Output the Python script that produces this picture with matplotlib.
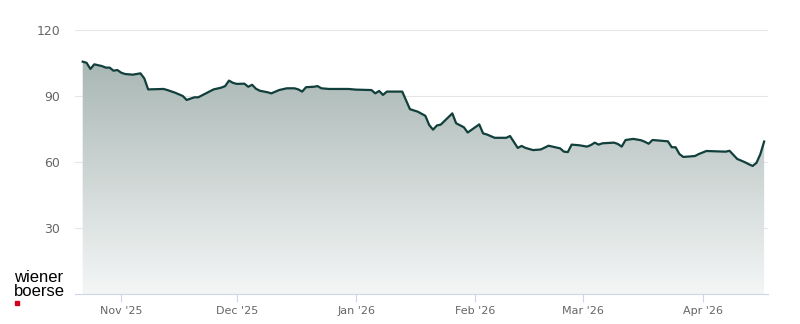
import numpy as np
import pandas as pd
import matplotlib
matplotlib.use("Agg")
import matplotlib.pyplot as plt
import matplotlib.dates as mdates
from matplotlib.colors import LinearSegmentedColormap
from matplotlib.patches import Polygon

# traced price points (date, close)
dates = [
    "2025-10-22", "2025-10-23", "2025-10-24", "2025-10-25", "2025-10-27", "2025-10-28",
    "2025-10-29", "2025-10-30", "2025-10-31", "2025-11-01", "2025-11-02", "2025-11-04",
    "2025-11-06", "2025-11-07", "2025-11-08", "2025-11-12", "2025-11-13", "2025-11-15",
    "2025-11-17", "2025-11-18", "2025-11-20", "2025-11-21", "2025-11-23", "2025-11-25",
    "2025-11-27", "2025-11-28", "2025-11-29", "2025-11-30", "2025-12-01", "2025-12-03",
    "2025-12-04", "2025-12-05", "2025-12-06", "2025-12-07", "2025-12-09", "2025-12-10",
    "2025-12-12", "2025-12-14", "2025-12-16", "2025-12-17", "2025-12-18", "2025-12-19",
    "2025-12-21", "2025-12-22", "2025-12-23", "2025-12-25", "2025-12-30", "2026-01-01",
    "2026-01-05", "2026-01-06", "2026-01-07", "2026-01-08", "2026-01-09", "2026-01-13",
    "2026-01-15", "2026-01-17", "2026-01-19", "2026-01-20", "2026-01-21", "2026-01-22",
    "2026-01-23", "2026-01-26", "2026-01-27", "2026-01-29", "2026-01-30", "2026-02-02",
    "2026-02-03", "2026-02-04", "2026-02-06", "2026-02-09", "2026-02-10", "2026-02-12",
    "2026-02-13", "2026-02-14", "2026-02-16", "2026-02-18", "2026-02-20", "2026-02-23",
    "2026-02-24", "2026-02-25", "2026-02-26", "2026-02-28", "2026-03-02", "2026-03-03",
    "2026-03-04", "2026-03-05", "2026-03-06", "2026-03-09", "2026-03-10", "2026-03-11",
    "2026-03-12", "2026-03-14", "2026-03-16", "2026-03-17", "2026-03-18", "2026-03-19",
    "2026-03-21", "2026-03-23", "2026-03-24", "2026-03-25", "2026-03-26", "2026-03-27",
    "2026-03-30", "2026-03-31", "2026-04-02", "2026-04-07", "2026-04-08", "2026-04-10",
    "2026-04-12", "2026-04-13", "2026-04-14", "2026-04-15", "2026-04-16", "2026-04-17",
]
prices = [
    105.6, 105.1, 102.3, 104.4, 103.6, 102.9,
    102.9, 101.5, 101.8, 100.6, 100.0, 99.7,
    100.3, 98.0, 93.0, 93.2, 92.7, 91.5,
    90.0, 88.2, 89.4, 89.4, 91.2, 93.0,
    93.8, 94.5, 97.0, 96.0, 95.5, 95.6,
    94.2, 95.1, 93.3, 92.4, 91.7, 91.2,
    92.7, 93.5, 93.5, 93.0, 92.0, 94.0,
    94.2, 94.5, 93.5, 93.2, 93.2, 92.9,
    92.7, 91.2, 92.3, 90.5, 92.0, 92.0,
    84.0, 82.9, 81.0, 76.8, 74.7, 76.6,
    77.0, 82.1, 77.6, 75.8, 73.4, 77.1,
    73.0, 72.5, 71.0, 71.0, 71.8, 66.4,
    67.3, 66.4, 65.4, 65.7, 67.4, 66.2,
    64.7, 64.5, 67.9, 67.6, 67.0, 67.7,
    68.8, 67.9, 68.5, 68.8, 68.2, 67.0,
    70.0, 70.5, 69.9, 69.2, 68.3, 70.0,
    69.7, 69.4, 66.7, 66.7, 63.6, 62.3,
    62.7, 63.6, 65.0, 64.7, 65.1, 61.4,
    59.9, 59.0, 58.2, 59.6, 63.5, 69.3,
]
y_ticks = [30, 60, 90, 120]

x = mdates.date2num(pd.to_datetime(dates))
y = np.array(prices)

fig = plt.figure(figsize=(8, 3.24), dpi=100)
ax = fig.add_axes([75 / 800, 1 - 294 / 324, 693 / 800, 264 / 324])

xlim = mdates.date2num([pd.Timestamp("2025-10-20"), pd.Timestamp("2026-04-18")])

# gradient fill under the line, clipped to the area polygon
verts = np.vstack([[x[0], 0], np.column_stack([x, y]), [x[-1], 0]])
area = Polygon(verts, closed=True, facecolor="none", edgecolor="none")
ax.add_patch(area)
cmap = LinearSegmentedColormap.from_list("fade", ["#f4f6f6", "#a9b7b4"])
grad = np.linspace(0, 1, 256).reshape(-1, 1)
img = ax.imshow(grad, cmap=cmap, aspect="auto", origin="lower",
                extent=[xlim[0], xlim[1], 0, max(prices)], zorder=1)
img.set_clip_path(area)

ax.plot(x, y, color="#113f3b", lw=1.6, zorder=3, solid_joinstyle="round")

ax.set_xlim(xlim)
ax.set_ylim(0, 120)

# grid and axes styling
ax.set_yticks(y_ticks)
for v in y_ticks:
    ax.axhline(v, color="#e6e6e6", lw=0.8, zorder=0)
for s in ["top", "right", "left"]:
    ax.spines[s].set_visible(False)
ax.spines["bottom"].set_color("#ccd6eb")
ax.spines["bottom"].set_linewidth(0.8)
ax.spines["bottom"].set_zorder(4)

ax.xaxis.set_major_locator(mdates.MonthLocator())
ax.xaxis.set_major_formatter(mdates.DateFormatter("%b '%y"))
ax.tick_params(axis="x", colors="#ccd6eb", length=5.5, width=0.8, labelcolor="#666666",
               labelsize=8, pad=3)
ax.tick_params(axis="y", length=0, labelcolor="#666666", labelsize=9, pad=10.5)

# logo
fig.text(14 / 800, 1 - 277 / 324, "wiener", family="Liberation Sans", fontsize=12,
         color="black", va="center", ha="left")
fig.text(14 / 800, 1 - 292 / 324, "boerse", family="Liberation Sans", fontsize=12,
         color="black", va="center", ha="left")
fig.patches.append(plt.Rectangle((15 / 800, 1 - 305 / 324), 4 / 800, 4 / 324,
                                 transform=fig.transFigure, color="#d0021b"))

fig.savefig("out.png", dpi=100)
